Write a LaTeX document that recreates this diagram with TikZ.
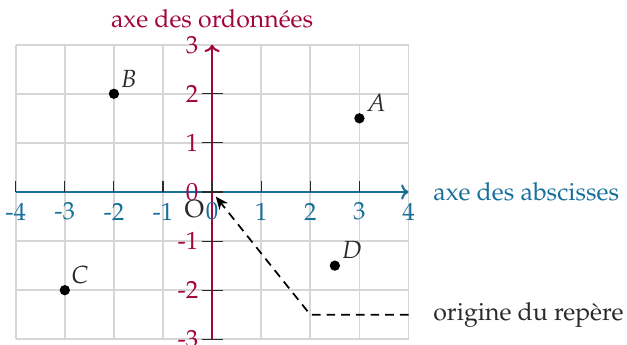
\documentclass[tikz,border=0pt]{standalone}
\usepackage[T1]{fontenc}
\usepackage{mathpazo}
\usepackage{tikz}
\usetikzlibrary{positioning,arrows,arrows.meta}
\definecolor{ordcol} {HTML}{A2063F}
\definecolor{abscol} {HTML}{17709A}
\definecolor{gridcol}{HTML}{D6D6D6}
\definecolor{ink}    {HTML}{2A2A2A}
\tikzset{
  every node/.style={font=\Large},
  % --- grid and axes
  quad/.style  = {draw=gridcol, line width=1pt},
  xaxe/.style  = {->, draw=abscol, line width=1.2pt},
  yaxe/.style  = {->, draw=ordcol, line width=1.2pt},
  tick/.style  = {draw=ink, line width=0.6pt},
  xlab/.style  = {text=abscol, inner sep=1pt},
  ylab/.style  = {text=ordcol, inner sep=1pt},
  % --- points
  pt/.style    = {circle, fill=black, inner sep=0pt, minimum size=2.1mm},
  ptlab/.style = {text=ink, inner sep=1pt},
  % --- remark
  rem/.style   = {-{Stealth[length=2.6mm,width=2.2mm]}, line width=1pt, draw=black,
                  dash pattern=on 5pt off 3.5pt},
}
\begin{document}
\begin{tikzpicture}
  \useasboundingbox (-4.32,-3.10) rectangle (8.45,3.91);
  % grid
  \draw[quad] (-4,-3) grid (4,3);
  % axes
  \coordinate (O) at (0,0);
  \coordinate (xend) at (4,0);
  \coordinate (yend) at (0,3);
  \draw[xaxe] (-4,0) -- (xend);
  \draw[yaxe] (0,-3) -- (yend);
  \foreach \x in {-4,...,3}
    \draw[tick] (\x,0) -- (\x,0.22);
  \foreach \y in {-3,...,2}
    \draw[tick] (-0.2,\y) -- (0.22,\y);
  \foreach \x in {-4,...,4}
    \node[xlab] (xl\x) at (\x,-0.4) {\x};
  \foreach \y in {-3,...,3}
    \node[ylab, anchor=east] (yl\y) at (-0.24,\y) {\y};
  \node[right=0.5 of xend, text=abscol, inner sep=0pt] (tabs) {axe des abscisses};
  \node[above=0.34 of yend, text=ordcol, inner sep=0pt] (tord) {axe des ordonn\'ees};
  % points
  \node[pt] (A) at (3,1.5) {};
  \node[pt] (B) at (-2,2) {};
  \node[pt] (C) at (-3,-2) {};
  \node[pt] (D) at (2.5,-1.5) {};
  \foreach \p in {A,B,C,D}
    \node[ptlab, above right=0.02 of \p] (l\p) {$\p$};
  \node[ptlab] (lO) at (-0.36,-0.34) {O};
  % origine
  \coordinate (r) at (4,-2.5);
  \node[right=0.5 of r, text=ink, inner sep=0pt] (torig) {origine du rep\`ere};
  \draw[rem, shorten >=0.12cm] (r) -- (2,-2.5) -- (O);
\end{tikzpicture}
\end{document}
